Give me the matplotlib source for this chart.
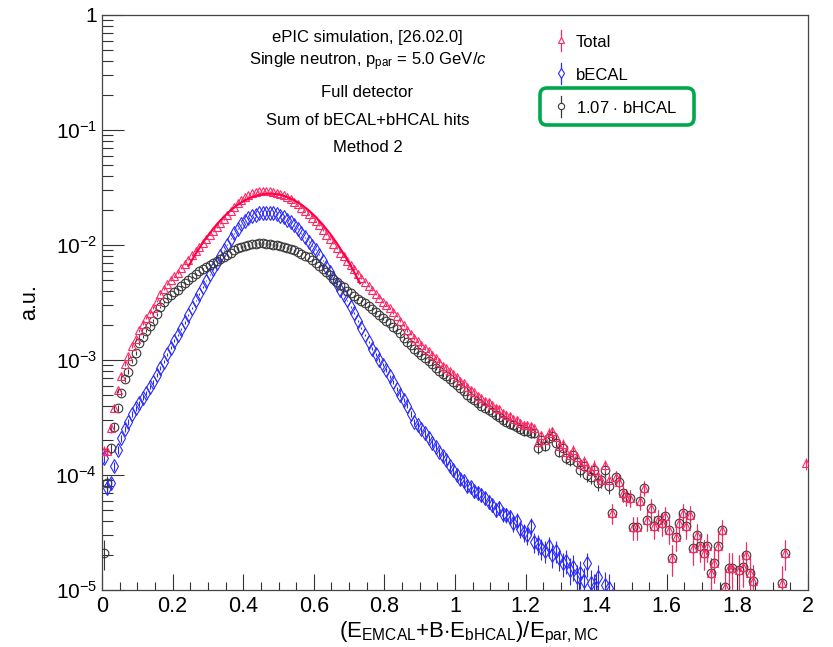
import numpy as np
import matplotlib
matplotlib.use("Agg")
import matplotlib.pyplot as plt
from matplotlib.patches import FancyBboxPatch
from matplotlib.transforms import IdentityTransform
from matplotlib.ticker import (FuncFormatter, LogLocator, MultipleLocator,
                               NullFormatter)

nan = float("nan")

# Histogram binning: 200 bins on [0, 2]
x_min, x_max, n_bins = 0.0, 2.0, 200
unit = 1e-5  # bin contents below are given in units of 1e-5
# weight of a single entry in each histogram, same units (for stat. errors)
weight_becal = 0.10
weight_bhcal = 0.18
weight_total = 0.18

# bECAL only
becal = [
    14, 7.7, 8.5, 12, 16.5, 21, 25, 29, 34, 38,
    42, 47, 52, 58, 65, 74, 85, 97, 112, 128,
    147, 165, 187, 212, 245, 285, 330, 375, 430, 490,
    555, 620, 700, 800, 900, 1010, 1130, 1260, 1390, 1510,
    1620, 1710, 1790, 1840, 1880, 1900, 1910, 1900, 1880, 1850,
    1800, 1740, 1660, 1570, 1480, 1380, 1270, 1170, 1070, 990,
    910, 820, 730, 650, 580, 520, 460, 410, 370, 330,
    290, 255, 220, 190, 165, 143, 125, 112, 100, 91,
    82, 72, 64, 56, 50, 45, 40, 34, 29, 27,
    25, 23, 21, 19, 17.5, 16, 14.5, 13.5, 12, 11,
    10, 9.2, 8.8, 8.0, 7.8, 7.2, 7.0, 6.7, 6.3, 5.8,
    5.5, 5.0, 5.2, 4.6, 4.5, 4.3, 3.8, 4.0, 3.4, 3.2,
    3.0, 3.6, 2.6, 2.5, 2.3, 2.2, 2.4, 2.0, 2.2, 1.9,
    1.7, 1.8, 1.5, 1.6, 1.3, 1.4, 1.2, 1.7, 1.15, 1.05,
    1.3, nan, 1.1, 1.05, nan, nan, nan, nan, nan, nan,
    nan, nan, nan, nan, nan, nan, nan, nan, nan, nan,
    nan, nan, nan, nan, nan, nan, nan, nan, nan, nan,
    nan, nan, nan, nan, nan, nan, nan, nan, nan, nan,
    nan, nan, nan, nan, nan, nan, nan, nan, nan, nan,
    nan, nan, nan, nan, nan, nan, nan, nan, nan, nan,
]

# bHCAL scaled by B = 1.07
bhcal_scaled = [
    2.1, 8.5, 17, 26, 38, 52, 68, 79, 98, 115,
    140, 160, 180, 198, 220, 250, 290, 320, 345, 370,
    390, 410, 440, 470, 500, 530, 560, 590, 620, 645,
    670, 695, 720, 750, 780, 820, 860, 900, 940, 970,
    990, 1010, 1020, 1030, 1040, 1035, 1030, 1020, 1010, 1000,
    990, 970, 950, 930, 900, 870, 840, 810, 780, 740,
    700, 660, 620, 580, 545, 510, 480, 450, 430, 400,
    380, 360, 340, 325, 310, 295, 280, 260, 245, 230,
    220, 210, 195, 185, 170, 155, 142, 135, 125, 118,
    110, 105, 98, 92, 86, 81, 75, 72, 68, 64,
    61, 57, 54, 50, 47, 45, 42, 40, 38, 37,
    35, 33, 32, 30, 29, 28, 27, 26, 25, 24,
    24, 23, 23, 17, 20, 18, 21, 22, 19, 16,
    17, 14, 13.5, 15, 13, 11, 12, 10, 9.6, 11,
    8.5, 9, 11, 8, 4.7, 9.6, 8.7, 7, 6.5, 6.3,
    3.5, 3.5, 6.0, 7.7, 4.1, 5.2, 3.6, 4.1, 3.8, 4.4,
    3.3, 1.9, 2.9, 3.8, 4.7, 3.6, 4.5, 2.3, 3.0, 2.4,
    2.1, 2.4, 1.4, 1.7, 2.4, 3.3, 1.07, 1.55, 1.55, nan,
    1.5, 1.6, 2.0, 1.4, 1.2, nan, nan, nan, nan, nan,
    nan, nan, 1.15, 2.1, nan, nan, nan, nan, nan, nan,
]

# Sum of bECAL + B*bHCAL
total = [
    16.1, 16.2, 25.5, 38, 54.5, 73, 93, 108, 132, 153,
    182, 207, 232, 256, 285, 324, 375, 417, 457, 498,
    537, 575, 627, 682, 745, 815, 890, 965, 1050, 1135,
    1225, 1315, 1420, 1550, 1680, 1830, 1990, 2160, 2330, 2480,
    2610, 2720, 2810, 2870, 2920, 2935, 2940, 2920, 2890, 2850,
    2790, 2710, 2610, 2500, 2380, 2250, 2110, 1980, 1850, 1730,
    1610, 1480, 1350, 1230, 1125, 1030, 940, 860, 800, 730,
    670, 615, 560, 515, 475, 438, 405, 372, 345, 321,
    302, 282, 259, 241, 220, 200, 182, 169, 154, 145,
    135, 128, 119, 111, 103.5, 97, 89.5, 85.5, 80, 75,
    71, 66.2, 62.8, 58, 54.8, 52.2, 49, 46.7, 44.3, 42.8,
    40.5, 38, 37.2, 34.6, 33.5, 32.3, 30.8, 30, 28.4, 27.2,
    27, 26.6, 25.6, 19.5, 22.3, 20.2, 23.4, 24, 21.2, 17.9,
    18.7, 15.8, 15, 16.6, 14.3, 12.4, 13.2, 11.7, 10.75, 12.05,
    9.8, 9, 12.1, 9.05, 4.7, 9.6, 8.7, 7, 6.5, 6.3,
    3.5, 3.5, 6.0, 7.7, 4.1, 5.2, 3.6, 4.1, 3.8, 4.4,
    3.3, 1.9, 2.9, 3.8, 4.7, 3.6, 4.5, 2.3, 3.0, 2.4,
    2.1, 2.4, 1.4, 1.7, 2.4, 3.3, 1.07, 1.55, 1.55, nan,
    1.5, 1.6, 2.0, 1.4, 1.2, nan, nan, nan, nan, nan,
    nan, nan, 1.15, 2.1, nan, nan, nan, nan, nan, 12.6,
]

# Gaussian fit to the total peak, sampled along the fit range
fit_x = [0.245, 0.265, 0.285, 0.305, 0.325, 0.345, 0.365, 0.385, 0.405,
         0.425, 0.445, 0.465, 0.485, 0.505, 0.525, 0.545, 0.565, 0.585,
         0.605, 0.625, 0.645, 0.665, 0.685, 0.705, 0.725, 0.731]
fit_y = [656, 835, 1040, 1267, 1510, 1761, 2009, 2243, 2448,
         2614, 2732, 2792, 2792, 2732, 2614, 2448, 2243, 2009,
         1761, 1510, 1267, 1040, 835, 656, 504, 464]

text_lines = [
    "ePIC simulation, [26.02.0]",
    r"Single neutron, p$_{\mathrm{par}}$ = 5.0 GeV/$c$",
    "Full detector",
    "Sum of bECAL+bHCAL hits",
    "Method 2",
]
legend_labels = ["Total", "bECAL", r"1.07 $\cdot$ bHCAL"]

col_total = "#ff2864"
col_fit = "#ff0045"
col_becal = "#2a2aff"
col_bhcal = "#383838"
col_box = "#00a84c"

plt.rcParams["font.family"] = ["Liberation Sans", "DejaVu Sans"]
plt.rcParams["mathtext.fontset"] = "custom"
plt.rcParams["mathtext.rm"] = "Liberation Sans"
plt.rcParams["mathtext.it"] = "Liberation Sans:italic"
plt.rcParams["mathtext.bf"] = "Liberation Sans:bold"

W, H = 833, 647
fig = plt.figure(figsize=(W / 100, H / 100), dpi=100)
ax_l, ax_r, ax_t, ax_b = 102, 808, 15, 590
ax = fig.add_axes([ax_l / W, (H - ax_b) / H, (ax_r - ax_l) / W, (ax_b - ax_t) / H])

edges = np.linspace(x_min, x_max, n_bins + 1)
centers = 0.5 * (edges[:-1] + edges[1:])


def draw_hist(values, weight, marker, color, ms):
    v = np.asarray(values, dtype=float)
    err = np.sqrt(v * weight)
    lo = np.minimum(err, v * 0.999)
    ax.errorbar(centers, v * unit, yerr=[lo * unit, err * unit], fmt=marker,
                ms=ms, mfc="none", mec=color, mew=0.8, ecolor=color,
                elinewidth=0.8, capsize=0, ls="none", zorder=3)


draw_hist(becal, weight_becal, "d", col_becal, 7.0)
draw_hist(bhcal_scaled, weight_bhcal, "o", col_bhcal, 6.2)
draw_hist(total, weight_total, "^", col_total, 6.2)
ax.plot(fit_x, np.asarray(fit_y) * unit, color=col_fit, lw=1.5, zorder=4)

ax.set_yscale("log", nonpositive="clip")
ax.set_xlim(x_min, x_max)
ax.set_ylim(1e-5, 1)

ax.xaxis.set_major_locator(MultipleLocator(0.2))
ax.xaxis.set_minor_locator(MultipleLocator(0.05))
ax.xaxis.set_major_formatter(FuncFormatter(lambda v, p: f"{v:g}"))


def ylab(v, p):
    e = int(round(np.log10(v)))
    return "1" if e == 0 else r"$10^{%d}$" % e


ax.yaxis.set_major_locator(LogLocator(base=10, numticks=10))
ax.yaxis.set_minor_locator(LogLocator(base=10, subs=np.arange(2, 10), numticks=20))
ax.yaxis.set_major_formatter(FuncFormatter(ylab))
ax.yaxis.set_minor_formatter(NullFormatter())

ax.tick_params(which="both", direction="in", top=False, right=False,
               width=0.8, color="#333333", labelsize=15)
ax.tick_params(axis="x", which="major", length=11.5, pad=4.5, labelsize=15.5)
ax.tick_params(axis="x", which="minor", length=5.8)
ax.tick_params(axis="y", which="major", length=16, pad=3.5)
ax.tick_params(axis="y", which="minor", length=8)
for s in ax.spines.values():
    s.set_linewidth(0.9)
    s.set_color("#444444")


def ax_x(px):
    return (px - ax_l) / (ax_r - ax_l)


def ax_y(py):
    return (ax_b - py) / (ax_b - ax_t)


# Info text block
for line, base in zip(text_lines, [42, 65, 97, 125, 152]):
    ax.text(ax_x(367.5), ax_y(base), line, transform=ax.transAxes,
            ha="center", va="baseline", fontsize=12)

# Legend
leg_styles = [("^", col_total, 4.5), ("d", col_becal, 5.5), ("o", col_bhcal, 4.5)]
for (mk, col, ms), lab, base in zip(leg_styles, legend_labels, [47, 80, 113]):
    yc = base - 7
    ax.plot([ax_x(561)] * 2, [ax_y(yc - 10.5), ax_y(yc + 10.5)],
            transform=ax.transAxes, color=col, lw=0.9, clip_on=False)
    ax.plot([ax_x(561)], [ax_y(yc)], marker=mk, ms=ms, mfc="white", mec=col,
            mew=0.8, transform=ax.transAxes, clip_on=False, ls="none")
    ax.text(ax_x(576), ax_y(base), lab, transform=ax.transAxes,
            ha="left", va="baseline", fontsize=12)

box = FancyBboxPatch((540, H - 125), 154, 37,
                     boxstyle="round,pad=0,rounding_size=7",
                     transform=IdentityTransform(), fill=False,
                     ec=col_box, lw=2.6, zorder=10)
fig.add_artist(box)

fig.text(469 / W, (H - 637) / H,
         r"(E$_{\mathrm{EMCAL}}$+B$\cdot$E$_{\mathrm{bHCAL}}$)/E$_{\mathrm{par,MC}}$",
         ha="center", va="baseline", fontsize=16)
fig.text(30 / W, (H - 302) / H, "a.u.", rotation=90, ha="center", va="center",
         fontsize=15.5)

fig.savefig("out.png", dpi=100)
